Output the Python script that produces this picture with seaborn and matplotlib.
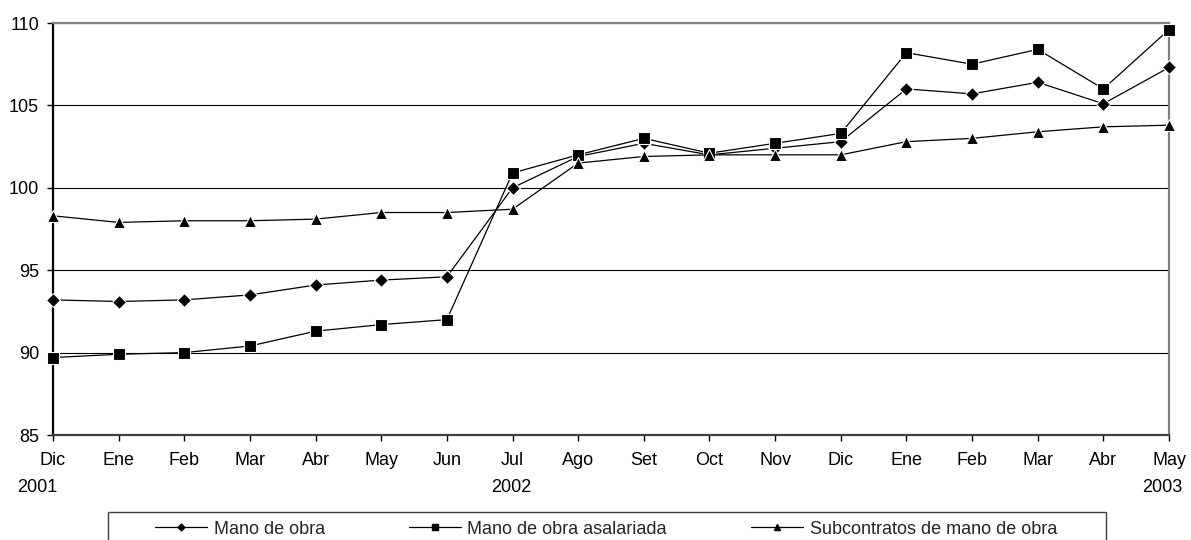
import matplotlib
matplotlib.use("Agg")
import matplotlib.pyplot as plt
import seaborn as sns
import pandas as pd
from matplotlib.patches import Rectangle
from matplotlib.lines import Line2D
from matplotlib.transforms import blended_transform_factory

# Months from December 2001 to May 2003
meses = ["Dic", "Ene", "Feb", "Mar", "Abr", "May", "Jun", "Jul", "Ago",
         "Set", "Oct", "Nov", "Dic", "Ene", "Feb", "Mar", "Abr", "May"]
anios = ["2001", "2002", "2003"]
anio_pos = [0, 7, 17]

mano_obra = [93.2, 93.1, 93.2, 93.5, 94.1, 94.4, 94.6, 100.0, 101.9,
             102.7, 102.0, 102.4, 102.8, 106.0, 105.7, 106.4, 105.1, 107.3]
mano_obra_asalariada = [89.7, 89.9, 90.0, 90.4, 91.3, 91.7, 92.0, 100.9, 102.0,
                        103.0, 102.1, 102.7, 103.3, 108.2, 107.5, 108.4, 106.0, 109.6]
subcontratos = [98.3, 97.9, 98.0, 98.0, 98.1, 98.5, 98.5, 98.7, 101.5,
                101.9, 102.0, 102.0, 102.0, 102.8, 103.0, 103.4, 103.7, 103.8]

series = ["Mano de obra", "Mano de obra asalariada", "Subcontratos de mano de obra"]
valores = [mano_obra, mano_obra_asalariada, subcontratos]
marcadores = ["D", "s", "^"]
tam_marcador = [7, 9, 8.5]
tam_leyenda = [3.5, 4.5, 4]

sns.set_style("ticks")
plt.rcParams["font.family"] = ["Liberation Sans", "DejaVu Sans"]
plt.rcParams["font.size"] = 13

W, H = 1191, 540
fig = plt.figure(figsize=(W / 100, H / 100), dpi=100)
left, right, top, bottom = 53, 1169, 23, 435
ax = fig.add_axes([left / W, 1 - bottom / H, (right - left) / W, (bottom - top) / H])

ax.yaxis.grid(True, color="black", linewidth=0.8, zorder=0)
ax.set_axisbelow(True)

for nombre, vals, mk, ms in zip(series, valores, marcadores, tam_marcador):
    df = pd.DataFrame({"pos": range(len(meses)), "valor": vals})
    sns.lineplot(data=df, x="pos", y="valor", ax=ax, color="black",
                 linewidth=0.9, marker=mk, markersize=ms,
                 markeredgecolor="white", markeredgewidth=0.8,
                 markerfacecolor="black", clip_on=False, zorder=3)

ax.set_xlim(0, len(meses) - 1)
ax.set_ylim(85, 110)
ax.set_yticks([85, 90, 95, 100, 105, 110])
ax.set_xticks(range(len(meses)))
ax.set_xticklabels(meses)
ax.set_xlabel("")
ax.set_ylabel("")
ax.tick_params(axis="both", direction="out", length=4, width=1, color="black",
               labelsize=13, labelcolor="black")
ax.tick_params(axis="x", pad=8)
ax.tick_params(axis="y", pad=6)

for s in ["top", "right"]:
    ax.spines[s].set_visible(True)
    ax.spines[s].set_color("#808080")
    ax.spines[s].set_linewidth(1.6)
ax.spines["left"].set_color("black")
ax.spines["left"].set_linewidth(1.6)
ax.spines["bottom"].set_color("#404040")
ax.spines["bottom"].set_linewidth(1.6)

# Year labels under the month labels
trans = blended_transform_factory(ax.transData, fig.transFigure)
anio_offset = [-0.24, -0.02, -0.11]
for txt, p, off in zip(anios, anio_pos, anio_offset):
    ax.text(p + off, 1 - 487 / H, txt, transform=trans, ha="center",
            va="center", fontsize=13, color="black")

# Legend with framed box at the bottom
handles = [Line2D([], [], color="black", linewidth=0.9, marker=mk, markersize=ms,
                  markerfacecolor="black", markeredgecolor="black")
           for mk, ms in zip(marcadores, tam_leyenda)]
fig.legend(handles, series, loc="center left",
           bbox_to_anchor=(146 / W, 1 - 529 / H), ncol=3, frameon=False,
           borderpad=0, handlelength=2.9, handletextpad=0.35,
           columnspacing=4.65, fontsize=13)
fig.patches.append(Rectangle((108 / W, 1 - 548 / H), (1106 - 108) / W, (548 - 511.5) / H,
                             transform=fig.transFigure, fill=False,
                             edgecolor="#404040", linewidth=1.0))

fig.savefig("out.png", dpi=100, facecolor="white")
